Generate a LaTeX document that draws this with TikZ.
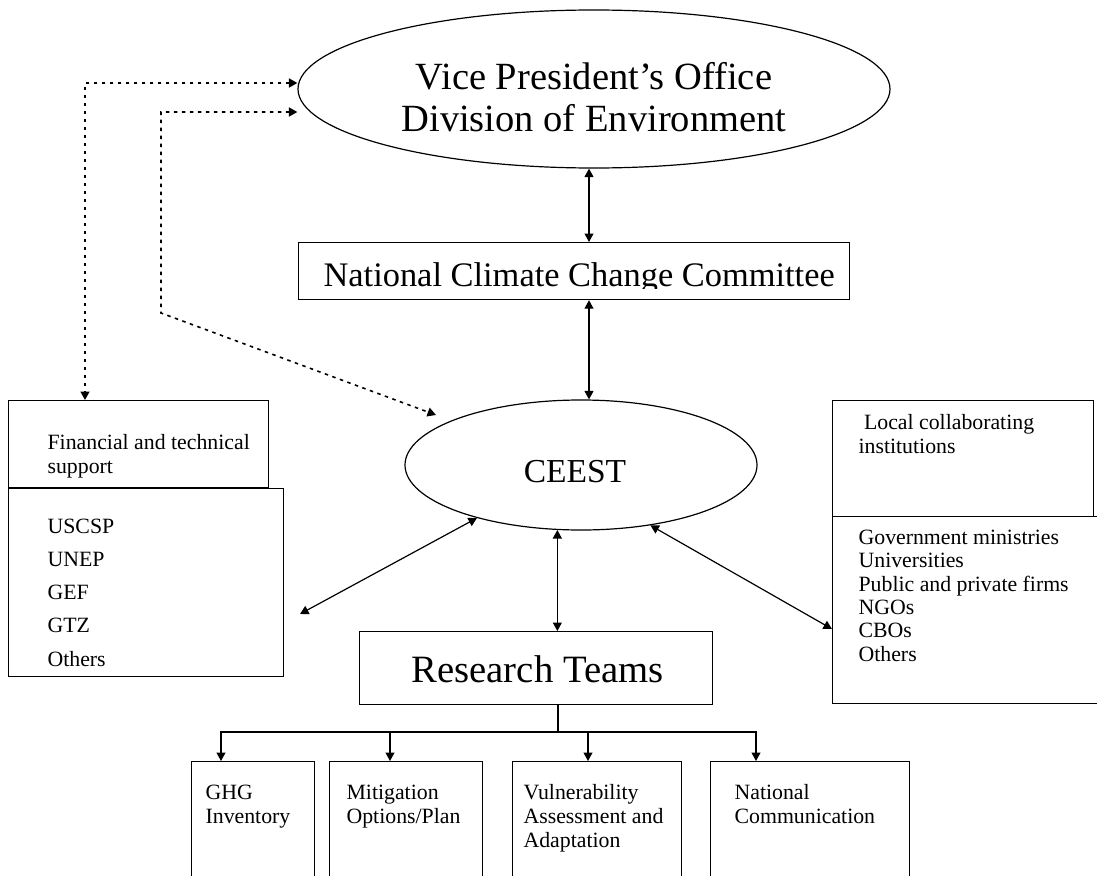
\documentclass[tikz,border=0pt]{standalone}
\usepackage{fontspec}
\setmainfont{Liberation Serif}
\usetikzlibrary{arrows.meta,shapes.geometric}

\begin{document}
\begin{tikzpicture}[x=1pt, y=-1pt, line width=1.2pt,
  arr/.style={-{Triangle[length=8.5pt,width=9pt]}},
  biarr/.style={{Triangle[length=8.5pt,width=9pt]}-{Triangle[length=8.5pt,width=9pt]}},
  dotbi/.style={biarr, line width=1.6pt, dash pattern=on 3.5pt off 4.5pt},
  box/.style={draw, rectangle, inner sep=0pt, anchor=north west},
  oval/.style={draw, ellipse, inner sep=0pt},
  % multi-line texts are placed by the baseline of their last line
  txt/.style={inner sep=0pt, align=left, anchor=base west},
  big/.style={inner sep=0pt, align=center, anchor=base},
  sm/.style={font=\fontsize{21.8}{23.3}\selectfont},
  smb/.style={font=\fontsize{21.8}{24}\selectfont},
]
\useasboundingbox (0,0) rectangle (1097,875);
\clip (0,0) rectangle (1097,875);

% ---- shapes ----
\node[oval, minimum width=592pt, minimum height=158pt] (vp) at (594,89) {};
\node[oval, minimum width=352pt, minimum height=130pt] (ceest) at (581,465) {};
\node[box, minimum width=551pt, minimum height=57pt] (nccc) at (298,242) {};
\node[box, minimum width=260pt, minimum height=87pt] (fin) at (8,400) {};
\node[box, minimum width=275pt, minimum height=188pt] (orgs) at (8,488) {};
\node[box, minimum width=261pt, minimum height=116pt] (lci) at (832,400) {};
\node[box, minimum width=290pt, minimum height=187pt] (lcl) at (832,516) {};
\node[box, minimum width=353pt, minimum height=73pt] (rt) at (359,631) {};
\node[box, minimum width=123pt, minimum height=130pt] (b1) at (191,761) {};
\node[box, minimum width=153pt, minimum height=130pt] (b2) at (329,761) {};
\node[box, minimum width=169pt, minimum height=130pt] (b3) at (512,761) {};
\node[box, minimum width=199pt, minimum height=130pt] (b4) at (710,761) {};

% ---- texts ----
\node[big, font=\fontsize{38.5}{42}\selectfont] (vptext) at (594,131)
  {Vice President’s Office\\Division of Environment};
\begin{scope}
  \clip (298,242) rectangle (849,288.5);
  \node[txt, font=\fontsize{34.4}{40}\selectfont] (nccctext) at (323,286)
    {National Climate Change Committee};
\end{scope}
\node[big, font=\fontsize{33.5}{40}\selectfont] (ceesttext) at (575,482) {CEEST};
\node[big, font=\fontsize{38.7}{42}\selectfont] (rttext) at (537.5,682) {Research Teams};

\node[txt, sm] (fintext) at (47,473) {Financial and technical\\support};
\node[txt, font=\fontsize{21.8}{33.2}\selectfont] (orgstext) at (47,666)
  {USCSP\\UNEP\\GEF\\GTZ\\Others};
\node[txt, sm] (lcitext) at (858,453) {\ Local collaborating\\institutions};
\node[txt, sm] (lcltext) at (858,661)
  {Government ministries\\Universities\\Public and private firms\\NGOs\\CBOs\\Others};
\node[txt, smb] (b1text) at (205,823) {GHG\\Inventory};
\node[txt, smb] (b2text) at (346,823) {Mitigation\\Options/Plan};
\node[txt, smb] (b3text) at (523,847) {Vulnerability\\Assessment and\\Adaptation};
\node[txt, smb] (b4text) at (734,823) {National\\Communication};

% ---- connectors ----
\coordinate (spine) at (589,0);
\draw[biarr] (vp.south -| spine) -- (nccc.north -| spine);
\draw[biarr] (nccc.south -| spine) -- (ceest.north -| spine);

\coordinate (d1) at (85,83);
\coordinate (d2) at (161,112);
\coordinate (d3) at (161,313);
\coordinate (d4) at (436,415);
\draw[dotbi] (vp.west |- d1) -- (d1) -- (fin.north -| d1);
\draw[dotbi] (vp.west |- d2) -- (d2) -- (d3) -- (d4);

\coordinate (fl) at (300,614);
\coordinate (rr) at (0,629);
\draw[biarr] (ceest.207) -- (fl);
\draw[biarr] (ceest.-41) -- (lcl.west |- rr);
\draw[biarr] (ceest.250) -- (ceest.250 |- rt.north);

\coordinate (hub) at (558,732);
\coordinate (t1) at (221,0);
\coordinate (t2) at (390,0);
\coordinate (t3) at (588,0);
\coordinate (t4) at (756,0);
\draw (rt.south -| hub) -- (hub);
\draw[arr] (hub) -| (b1.north -| t1);
\draw[arr] (hub) -| (b2.north -| t2);
\draw[arr] (hub) -| (b3.north -| t3);
\draw[arr] (hub) -| (b4.north -| t4);
\end{tikzpicture}
\end{document}
